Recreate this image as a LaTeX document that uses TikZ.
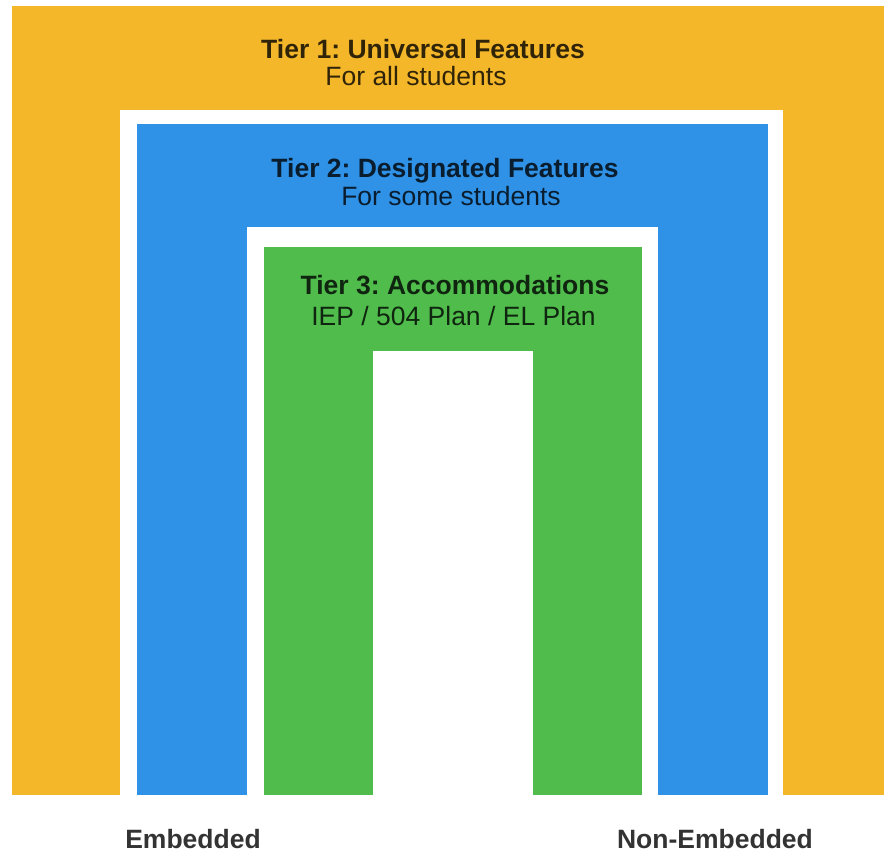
\documentclass[tikz,border=0pt]{standalone}
\usepackage{fontspec}
\setmainfont{Liberation Sans}
\frenchspacing
\definecolor{tierorange}{HTML}{F4B72A}
\definecolor{tierblue}{HTML}{2F92E6}
\definecolor{tiergreen}{HTML}{4FBC4C}
\tikzset{
  lbl/.style={anchor=base, inner sep=0pt, text=black, text opacity=0.8,
              font=\fontsize{26.5}{30}\selectfont},
  lblbold/.style={lbl, font=\fontsize{26.5}{30}\selectfont\bfseries},
}
\begin{document}
\begin{tikzpicture}[x=1pt, y=-1pt]
  \useasboundingbox (0,0) rectangle (884,852);
  \fill[white] (0,0) rectangle (884,852);
  % nested arches, outermost first
  \fill[tierorange] (12,6) rectangle (884,795);
  \fill[white] (120,110) rectangle (783,795);
  \fill[tierblue] (137,124) rectangle (768,795);
  \fill[white] (247,227) rectangle (658,795);
  \fill[tiergreen] (264,247) rectangle (642,795);
  \fill[white] (373,351) rectangle (533,795);
  % tier titles
  \node[lblbold] (t1) at (423,58) {Tier 1: Universal Features};
  \node[lbl]     (s1) at (416,85) {For all students};
  \node[lblbold] (t2) at (445,177) {Tier 2: Designated Features};
  \node[lbl]     (s2) at (451,205) {For some students};
  \node[lblbold] (t3) at (455,294) {Tier 3: Accommodations};
  \node[lbl]     (s3) at (453.5,325) {IEP / 504 Plan / EL Plan};
  % bottom captions
  \node[lblbold] (emb) at (193,848) {Embedded};
  \node[lblbold] (nonemb) at (715,848) {Non-Embedded};
\end{tikzpicture}
\end{document}
